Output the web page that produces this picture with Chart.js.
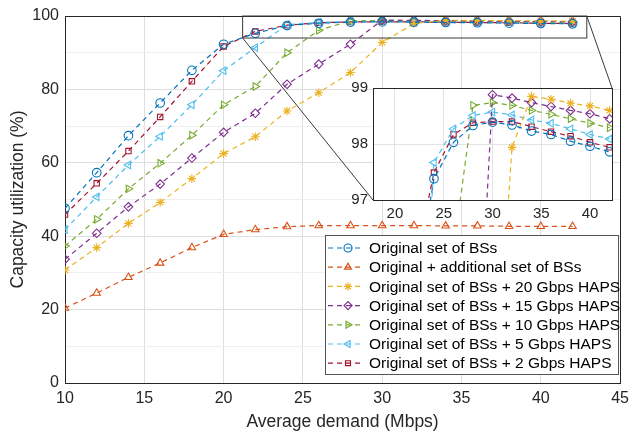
<!DOCTYPE html>
<html>
<head>
<meta charset="utf-8">
<script src="https://cdn.jsdelivr.net/npm/chart.js@4.4.1/dist/chart.umd.min.js"></script>
<style>
  html, body { margin: 0; padding: 0; background: #fff; }
  #wrap { position: relative; width: 635px; height: 434px; }
  #mainChart { position: absolute; left: 0; top: 0; }
  #insetChart { position: absolute; left: 338px; top: 74px; }
</style>
</head>
<body>
<div id="wrap">
  <canvas id="mainChart" width="635" height="434"></canvas>
  <canvas id="insetChart" width="280" height="151"></canvas>
</div>
<script>
const demand = [10, 12, 14, 16, 18, 20, 22, 24, 26, 28, 30, 32, 34, 36, 38, 40, 42];

const origBS = [47.6, 57.3, 67.4, 76.3, 85.2, 92.3, 95.3, 97.38, 98.03, 98.33, 98.39, 98.34, 98.23, 98.17, 98.05, 97.96, 97.86];
const origAdd = [20.4, 24.5, 28.8, 32.7, 36.9, 40.5, 41.8, 42.6, 42.9, 42.9, 42.9, 42.9, 42.8, 42.8, 42.7, 42.7, 42.7];
const haps20 = [30.8, 36.9, 43.5, 49.2, 55.7, 62.5, 67.1, 74.1, 79.1, 84.6, 92.8, 97.94, 98.85, 98.80, 98.73, 98.68, 98.60];
const haps15 = [33.7, 40.8, 48.0, 54.2, 61.3, 68.3, 73.5, 81.4, 86.9, 92.3, 98.88, 98.82, 98.74, 98.67, 98.60, 98.54, 98.45];
const haps10 = [37.3, 44.6, 52.9, 59.9, 67.5, 75.8, 80.8, 90.0, 96.1, 98.69, 98.74, 98.69, 98.60, 98.53, 98.45, 98.37, 98.29];
const haps5 = [41.8, 50.7, 59.4, 67.2, 75.8, 85.1, 91.4, 97.67, 98.27, 98.51, 98.57, 98.52, 98.43, 98.37, 98.27, 98.17, 98.09];
const haps2 = [45.9, 54.4, 63.2, 72.5, 82.2, 91.7, 95.8, 97.49, 98.17, 98.38, 98.40, 98.40, 98.31, 98.22, 98.14, 98.03, 97.94];

const seriesLabels = [
  'Original set of BSs',
  'Original + additional set of BSs',
  'Original set of BSs + 20 Gbps HAPS',
  'Original set of BSs + 15 Gbps HAPS',
  'Original set of BSs + 10 Gbps HAPS',
  'Original set of BSs + 5 Gbps HAPS',
  'Original set of BSs + 2 Gbps HAPS'
];
const seriesValues = [origBS, origAdd, haps20, haps15, haps10, haps5, haps2];
const seriesColors = ['#0072BD', '#D95319', '#EDB120', '#7E2F8E', '#77AC30', '#4DBEEE', '#A2142F'];
const seriesMarkers = ['circle', 'triangle', 'star', 'rectRot', 'triangle', 'triangle', 'rect'];
const markerRotation = [0, 0, 0, 0, 90, -90, 0];

const mainXTicks = [10, 15, 20, 25, 30, 35, 40, 45];
const mainYTicks = [0, 20, 40, 60, 80, 100];
const insetXTicks = [20, 25, 30, 35, 40];
const insetYTicks = [97, 98, 99];
const zoomBox = { x0: 21.2, x1: 42.9, y0: 94, y1: 100 };
const insetOffset = { left: 338, top: 74 };

const FONT = "'Liberation Sans', Arial, sans-serif";
const TXT = '#262626';

function makeDatasets(radius) {
  return seriesValues.map((vals, i) => ({
    label: seriesLabels[i],
    data: demand.map((d, j) => ({ x: d, y: vals[j] })),
    borderColor: seriesColors[i],
    backgroundColor: 'transparent',
    pointBorderColor: seriesColors[i],
    pointBackgroundColor: 'transparent',
    pointStyle: seriesMarkers[i],
    pointRotation: markerRotation[i],
    pointRadius: seriesMarkers[i] === 'rect' ? radius - 0.5 : radius,
    pointBorderWidth: 1.1,
    borderWidth: 1.2,
    borderDash: [5, 4],
    tension: 0
  }));
}

function drawMarker(ctx, i, x, y, r) {
  Chart.helpers.drawPoint(ctx, {
    pointStyle: seriesMarkers[i],
    rotation: markerRotation[i],
    radius: r,
    borderWidth: 1.1
  }, x, y);
}

const boxPlugin = {
  id: 'boxPlugin',
  beforeDraw(chart) {
    const a = chart.chartArea;
    const ctx = chart.ctx;
    ctx.save();
    ctx.fillStyle = '#fff';
    ctx.fillRect(a.left, a.top, a.right - a.left, a.bottom - a.top);
    ctx.restore();
  },
  afterDraw(chart) {
    const a = chart.chartArea;
    const ctx = chart.ctx;
    ctx.save();
    ctx.strokeStyle = TXT;
    ctx.lineWidth = 1;
    ctx.strokeRect(Math.round(a.left) + 0.5, Math.round(a.top) + 0.5, Math.round(a.right - a.left), Math.round(a.bottom - a.top));
    ctx.restore();
  }
};

// inset
const inset = new Chart(document.getElementById('insetChart'), {
  type: 'line',
  data: { datasets: makeDatasets(4.3) },
  options: {
    responsive: false,
    animation: false,
    layout: { padding: { left: 0, right: 6, top: 4, bottom: 0 } },
    plugins: { legend: { display: false }, tooltip: { enabled: false } },
    scales: {
      x: {
        type: 'linear', min: 17.75, max: 42.25,
        afterBuildTicks: s => { s.ticks = insetXTicks.map(v => ({ value: v })); },
        afterFit: s => { s.height = 25; },
        grid: { color: '#e3e3e3', drawTicks: false },
        border: { color: TXT },
        ticks: { color: TXT, font: { family: FONT, size: 15 }, padding: 5, maxRotation: 0 }
      },
      y: {
        type: 'linear', min: 97, max: 99,
        afterBuildTicks: s => { s.ticks = insetYTicks.map(v => ({ value: v })); },
        afterFit: s => { s.width = 35; },
        grid: { color: '#e3e3e3', drawTicks: false },
        border: { color: TXT },
        ticks: { color: TXT, font: { family: FONT, size: 15 }, padding: 5 }
      }
    }
  },
  plugins: [boxPlugin]
});

const overlayPlugin = {
  id: 'overlayPlugin',
  afterDraw(chart) {
    const ctx = chart.ctx;
    const xs = chart.scales.x, ys = chart.scales.y;
    const a = chart.chartArea;
    // box on top and right
    ctx.save();
    ctx.strokeStyle = TXT;
    ctx.lineWidth = 1;
    ctx.beginPath();
    ctx.moveTo(a.left, Math.round(a.top) + 0.5);
    ctx.lineTo(Math.round(a.right) + 0.5, Math.round(a.top) + 0.5);
    ctx.lineTo(Math.round(a.right) + 0.5, a.bottom);
    ctx.stroke();

    // zoom rectangle and connector lines
    const rx0 = xs.getPixelForValue(zoomBox.x0), rx1 = xs.getPixelForValue(zoomBox.x1);
    const ry0 = ys.getPixelForValue(zoomBox.y0), ry1 = ys.getPixelForValue(zoomBox.y1);
    ctx.strokeStyle = '#3a3a3a';
    ctx.lineWidth = 1;
    ctx.strokeRect(rx0, ry1, rx1 - rx0, ry0 - ry1);
    const ia = inset.chartArea;
    ctx.beginPath();
    ctx.moveTo(rx0, ry0);
    ctx.lineTo(insetOffset.left + ia.left, insetOffset.top + ia.bottom);
    ctx.moveTo(rx1, ry1);
    ctx.lineTo(insetOffset.left + ia.right, insetOffset.top + ia.top);
    ctx.stroke();

    // legend
    const lx = 325, ly = 235, lw = 293, lh = 139;
    ctx.fillStyle = '#fff';
    ctx.fillRect(lx, ly, lw, lh);
    ctx.strokeStyle = '#555';
    ctx.strokeRect(lx + 0.5, ly + 0.5, lw, lh);
    ctx.font = '15.5px ' + FONT;
    ctx.textBaseline = 'middle';
    ctx.textAlign = 'left';
    seriesLabels.forEach((lab, i) => {
      const y = ly + 13 + i * 19.2;
      ctx.strokeStyle = seriesColors[i];
      ctx.lineWidth = 1.2;
      ctx.setLineDash([5, 4]);
      ctx.beginPath();
      ctx.moveTo(lx + 3, y);
      ctx.lineTo(lx + 36, y);
      ctx.stroke();
      ctx.setLineDash([]);
      ctx.fillStyle = 'transparent';
      drawMarker(ctx, i, lx + 23, y, seriesMarkers[i] === 'rect' ? 3.5 : 4);
      ctx.fillStyle = '#000';
      ctx.fillText(lab, lx + 44, y + 1);
    });
    ctx.restore();
  }
};

const mainChart = new Chart(document.getElementById('mainChart'), {
  type: 'line',
  data: { datasets: makeDatasets(4.3) },
  options: {
    responsive: false,
    animation: false,
    layout: { padding: { left: 0, right: 13, top: 16, bottom: 0 } },
    plugins: { legend: { display: false }, tooltip: { enabled: false } },
    scales: {
      x: {
        type: 'linear', min: 10, max: 45,
        afterBuildTicks: s => { s.ticks = mainXTicks.map(v => ({ value: v })); },
        afterFit: s => { s.height = 51; },
        grid: { color: '#dedede', drawTicks: false },
        border: { color: TXT },
        ticks: { color: TXT, font: { family: FONT, size: 16 }, padding: 6, maxRotation: 0 },
        title: { display: true, text: 'Average demand (Mbps)', color: TXT, font: { family: FONT, size: 17.5 }, padding: { top: 0, bottom: 1 } }
      },
      y: {
        type: 'linear', min: 0, max: 100,
        afterBuildTicks: s => {
          const t = [];
          for (let v = 0; v <= 100; v += 5) t.push({ value: v });
          s.ticks = t;
        },
        afterFit: s => { s.width = 65; },
        grid: {
          color: c => (mainYTicks.includes(c.tick.value) ? '#dedede' : '#efefef'),
          drawTicks: false
        },
        border: { color: TXT },
        ticks: {
          color: TXT, font: { family: FONT, size: 16 }, padding: 6,
          callback: v => (mainYTicks.includes(v) ? String(v) : '')
        },
        title: { display: true, text: 'Capacity utilization (%)', color: TXT, font: { family: FONT, size: 17.5 }, padding: { top: 8, bottom: 0 } }
      }
    }
  },
  plugins: [overlayPlugin]
});
</script>
</body>
</html>
